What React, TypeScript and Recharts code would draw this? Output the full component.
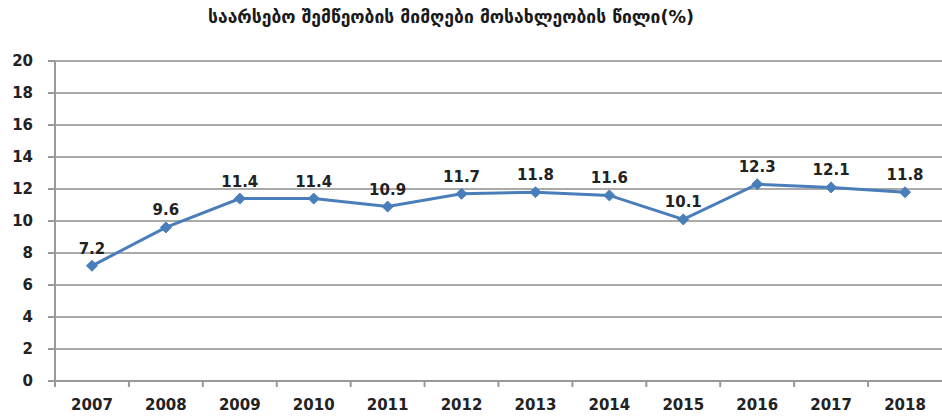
import { CartesianGrid, LabelList, Line, LineChart, XAxis, YAxis } from "recharts";

const years = ["2007", "2008", "2009", "2010", "2011", "2012", "2013", "2014", "2015", "2016", "2017", "2018"];
const share = [7.2, 9.6, 11.4, 11.4, 10.9, 11.7, 11.8, 11.6, 10.1, 12.3, 12.1, 11.8];
const yTicks = [0, 2, 4, 6, 8, 10, 12, 14, 16, 18, 20];
const title = "საარსებო შემწეობის მიმღები მოსახლეობის წილი(%)";

const data = years.map((year, i) => ({ year, value: share[i] }));

const FONT = "'DejaVu Sans', Verdana, sans-serif";
const BLUE = "#4a7ebb";
const CHART_W = 942;
const AXIS_W = 55;
const BAND = (CHART_W - AXIS_W) / years.length;

const Diamond = (props: any) => {
    const { cx, cy } = props;
    if (cx == null || cy == null) return null;
    const r = 5.5;
    return (
        <path
            d={`M${cx},${cy - r} L${cx + r},${cy} L${cx},${cy + r} L${cx - r},${cy} Z`}
            fill={BLUE}
            stroke={BLUE}
        />
    );
};

// year label plus a tick mark on the left edge of its band
const YearTick = (props: any) => {
    const { x, y, payload } = props;
    const left = x - BAND / 2;
    return (
        <g>
            <line x1={left} x2={left} y1={y - 18} y2={y - 12} stroke="#999" strokeWidth={2} />
            <text
                x={x}
                y={y}
                dy="0.71em"
                textAnchor="middle"
                fill="#222"
                fontFamily={FONT}
                fontWeight="bold"
                fontSize={15}
            >
                {payload.value}
            </text>
        </g>
    );
};

export default function App() {
    return (
        <div style={{ position: "absolute", left: 0, top: 0, width: CHART_W, height: 417, background: "#fff" }}>
            <div
                style={{
                    position: "absolute",
                    top: 7,
                    left: -20,
                    width: CHART_W,
                    textAlign: "center",
                    fontFamily: FONT,
                    fontWeight: "bold",
                    fontSize: 17.5,
                    color: "#1a1a1a",
                }}
            >
                {title}
            </div>
            <LineChart
                width={CHART_W}
                height={417}
                data={data}
                margin={{ top: 61, right: 0, bottom: 6, left: 0 }}
            >
                <CartesianGrid vertical={false} stroke="#aaaaaa" strokeWidth={2} />
                <XAxis
                    dataKey="year"
                    scale="band"
                    stroke="#999"
                    strokeWidth={2}
                    tickSize={6}
                    tickMargin={12}
                    tickLine={{ stroke: "none" }}
                    tick={<YearTick />}
                    interval={0}
                />
                <YAxis
                    domain={[0, 20]}
                    ticks={yTicks}
                    width={AXIS_W}
                    stroke="#999"
                    strokeWidth={2}
                    tickSize={7}
                    tickMargin={15}
                    tick={{ fill: "#222", fontFamily: FONT, fontWeight: "bold", fontSize: 15 }}
                    interval={0}
                />
                <Line
                    dataKey="value"
                    stroke={BLUE}
                    strokeWidth={3}
                    dot={<Diamond />}
                    activeDot={false}
                    isAnimationActive={false}
                >
                    <LabelList
                        dataKey="value"
                        position="top"
                        offset={12}
                        formatter={(v: any) => Number(v).toFixed(1)}
                        style={{ fill: "#222", fontFamily: FONT, fontWeight: "bold", fontSize: 15 }}
                    />
                </Line>
            </LineChart>
        </div>
    );
}
